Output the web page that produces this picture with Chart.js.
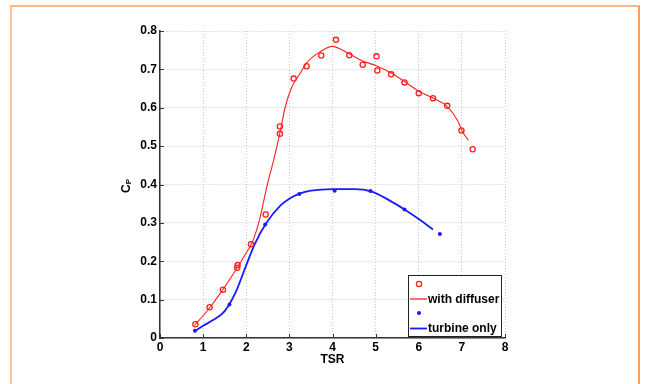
<!DOCTYPE html>
<html>
<head>
<meta charset="utf-8">
<script src="https://cdn.jsdelivr.net/npm/chart.js@4.4.1/dist/chart.umd.min.js"></script>
<style>
  html, body { margin: 0; padding: 0; background: #ffffff; }
  #wrap { position: relative; width: 645px; height: 384px; overflow: hidden; }
  #frame { position: absolute; left: 10px; top: 5px; width: 630px; height: 420px;
           border-style: solid; border-width: 2px;
           border-color: #f9b68a #f7a060 #f9b68a #fbc29c; box-sizing: border-box; }
  canvas { position: absolute; left: 0; top: 0; }
</style>
</head>
<body>
<div id="wrap">
  <div id="frame"></div>
  <canvas id="c" width="645" height="384"></canvas>
</div>
<script>
// ---- data ----
const diffuserTSR = [0.82, 1.15, 1.46, 1.79, 1.80, 2.11, 2.45, 2.78, 2.78, 3.10, 3.40, 3.74, 4.08, 4.39, 4.70, 5.02, 5.04, 5.36, 5.67, 6.00, 6.33, 6.66, 6.99, 7.25];
const diffuserCp  = [0.036, 0.080, 0.126, 0.183, 0.190, 0.244, 0.322, 0.532, 0.551, 0.676, 0.708, 0.736, 0.777, 0.737, 0.712, 0.734, 0.697, 0.687, 0.666, 0.638, 0.625, 0.605, 0.541, 0.492];

const diffuserFitTSR = [0.8, 1.0, 1.2, 1.4, 1.6, 1.8, 2.0, 2.15, 2.3, 2.5, 2.65, 2.8, 2.9, 3.05, 3.25, 3.4, 3.7, 4.0, 4.2, 4.4, 4.7, 5.0, 5.35, 5.7, 6.0, 6.35, 6.65, 6.9, 7.0, 7.15];
const diffuserFitCp  = [0.033, 0.058, 0.086, 0.117, 0.150, 0.185, 0.222, 0.252, 0.305, 0.405, 0.470, 0.545, 0.600, 0.652, 0.690, 0.717, 0.745, 0.760, 0.752, 0.740, 0.722, 0.710, 0.691, 0.666, 0.643, 0.624, 0.604, 0.567, 0.541, 0.515];

const turbineTSR = [0.81, 1.61, 2.44, 3.23, 4.05, 4.88, 5.67, 6.49];
const turbineCp  = [0.019, 0.087, 0.296, 0.375, 0.384, 0.383, 0.335, 0.271];

const turbineFitTSR = [0.8, 1.0, 1.25, 1.5, 1.75, 2.0, 2.2, 2.45, 2.8, 3.0, 3.25, 3.5, 4.0, 4.5, 4.9, 5.3, 5.67, 6.0, 6.33];
const turbineFitCp  = [0.017, 0.032, 0.048, 0.070, 0.118, 0.190, 0.245, 0.297, 0.346, 0.363, 0.377, 0.384, 0.388, 0.388, 0.382, 0.360, 0.335, 0.310, 0.283];

const xTicks = [0, 1, 2, 3, 4, 5, 6, 7, 8];
const yTicks = [0, 0.1, 0.2, 0.3, 0.4, 0.5, 0.6, 0.7, 0.8];
const legendLabels = ['with diffuser', 'turbine only'];
const xTitle = 'TSR';
const yTitleMain = 'C';
const yTitleSub = 'P';

const RED = '#ff2020';
const BLUE = '#1a1aff';
const FONT = 'Liberation Sans, Arial, Helvetica, sans-serif';

function pts(xs, ys) { return xs.map((x, i) => ({ x: x, y: ys[i] })); }

const extras = {
  id: 'extras',
  afterDraw(chart) {
    const ctx = chart.ctx;
    const xs = chart.scales.x, ys = chart.scales.y;
    const a = chart.chartArea;
    ctx.save();
    // inward tick marks
    ctx.strokeStyle = '#333';
    ctx.lineWidth = 1;
    ctx.beginPath();
    yTicks.forEach(v => {
      const py = Math.round(ys.getPixelForValue(v)) + 0.5;
      ctx.moveTo(a.left, py); ctx.lineTo(a.left + 4, py);
    });
    xTicks.forEach(v => {
      const px = Math.round(xs.getPixelForValue(v)) + 0.5;
      ctx.moveTo(px, a.bottom); ctx.lineTo(px, a.bottom - 4);
    });
    ctx.stroke();

    // y axis title C_P (rotated)
    ctx.save();
    ctx.translate(130, 193);
    ctx.rotate(-Math.PI / 2);
    ctx.fillStyle = '#000';
    ctx.textBaseline = 'alphabetic';
    ctx.textAlign = 'left';
    ctx.font = 'bold 12px ' + FONT;
    ctx.fillText(yTitleMain, 0, 0);
    const cw = ctx.measureText(yTitleMain).width;
    ctx.font = 'bold 8px ' + FONT;
    ctx.fillText(yTitleSub, cw, 1);
    ctx.restore();

    // legend box
    const lx = 408.5, ly = 275.5, lw = 93, lh = 61;
    ctx.fillStyle = '#ffffff';
    ctx.fillRect(lx, ly, lw, lh);
    ctx.strokeStyle = '#222';
    ctx.lineWidth = 1;
    ctx.strokeRect(lx, ly, lw, lh);
    // row 1: red circle
    ctx.strokeStyle = RED; ctx.lineWidth = 1.3;
    ctx.beginPath(); ctx.arc(419, 284, 2.6, 0, Math.PI * 2); ctx.stroke();
    // row 2: red line + text
    ctx.strokeStyle = RED; ctx.lineWidth = 1.3;
    ctx.beginPath(); ctx.moveTo(410, 299); ctx.lineTo(427, 299); ctx.stroke();
    ctx.fillStyle = '#000';
    ctx.font = 'bold 12px ' + FONT;
    ctx.textAlign = 'left';
    ctx.textBaseline = 'middle';
    ctx.fillText(legendLabels[0], 428, 299.5);
    // row 3: blue dot
    ctx.fillStyle = BLUE;
    ctx.beginPath(); ctx.arc(419, 313, 2, 0, Math.PI * 2); ctx.fill();
    // row 4: blue line + text
    ctx.strokeStyle = BLUE; ctx.lineWidth = 1.8;
    ctx.beginPath(); ctx.moveTo(410, 328.5); ctx.lineTo(427, 328.5); ctx.stroke();
    ctx.fillStyle = '#000';
    ctx.fillText(legendLabels[1], 428, 328.5);
    ctx.restore();
  }
};

new Chart(document.getElementById('c'), {
  type: 'scatter',
  data: {
    datasets: [
      { label: 'with diffuser (data)', data: pts(diffuserTSR, diffuserCp), showLine: false,
        pointStyle: 'circle', pointRadius: 2.6, pointBorderWidth: 1.3,
        pointBorderColor: RED, pointBackgroundColor: 'rgba(0,0,0,0)', order: 1 },
      { label: legendLabels[0], data: pts(diffuserFitTSR, diffuserFitCp), showLine: true,
        pointRadius: 0, borderColor: RED, borderWidth: 1.1, cubicInterpolationMode: 'monotone', order: 2 },
      { label: 'turbine only (data)', data: pts(turbineTSR, turbineCp), showLine: false,
        pointStyle: 'circle', pointRadius: 2, pointBorderWidth: 0,
        pointBackgroundColor: BLUE, order: 1 },
      { label: legendLabels[1], data: pts(turbineFitTSR, turbineFitCp), showLine: true,
        pointRadius: 0, borderColor: BLUE, borderWidth: 1.8, cubicInterpolationMode: 'monotone', order: 2 }
    ]
  },
  options: {
    responsive: false,
    animation: false,
    devicePixelRatio: 1,
    layout: { padding: { top: 31, right: 140, left: 0, bottom: 17 } },
    plugins: { legend: { display: false }, tooltip: { enabled: false } },
    scales: {
      x: {
        type: 'linear', min: 0, max: 8,
        afterFit(s) { s.height = 29; },
        afterBuildTicks(s) { s.ticks = xTicks.map(v => ({ value: v })); },
        ticks: { color: '#000', font: { family: FONT, size: 12, weight: 'bold' }, padding: 2, maxRotation: 0 },
        grid: { color: '#c8c8c8', lineWidth: 1, drawTicks: false },
        border: { display: true, color: '#333', width: 1.5, dash: [1, 2] },
        title: { display: true, text: xTitle, color: '#000', font: { family: FONT, size: 12, weight: 'bold' }, padding: { top: 0, bottom: 0 } }
      },
      y: {
        type: 'linear', min: 0, max: 0.8,
        afterFit(s) { s.width = 160; },
        afterBuildTicks(s) { s.ticks = yTicks.map(v => ({ value: v })); },
        ticks: { color: '#000', font: { family: FONT, size: 12, weight: 'bold' }, padding: 3,
                 callback: v => String(Math.round(v * 10) / 10) },
        grid: { color: '#c8c8c8', lineWidth: 1, drawTicks: false },
        border: { display: true, color: '#333', width: 1.5, dash: [1, 2] }
      }
    }
  },
  plugins: [extras]
});
</script>
</body>
</html>
